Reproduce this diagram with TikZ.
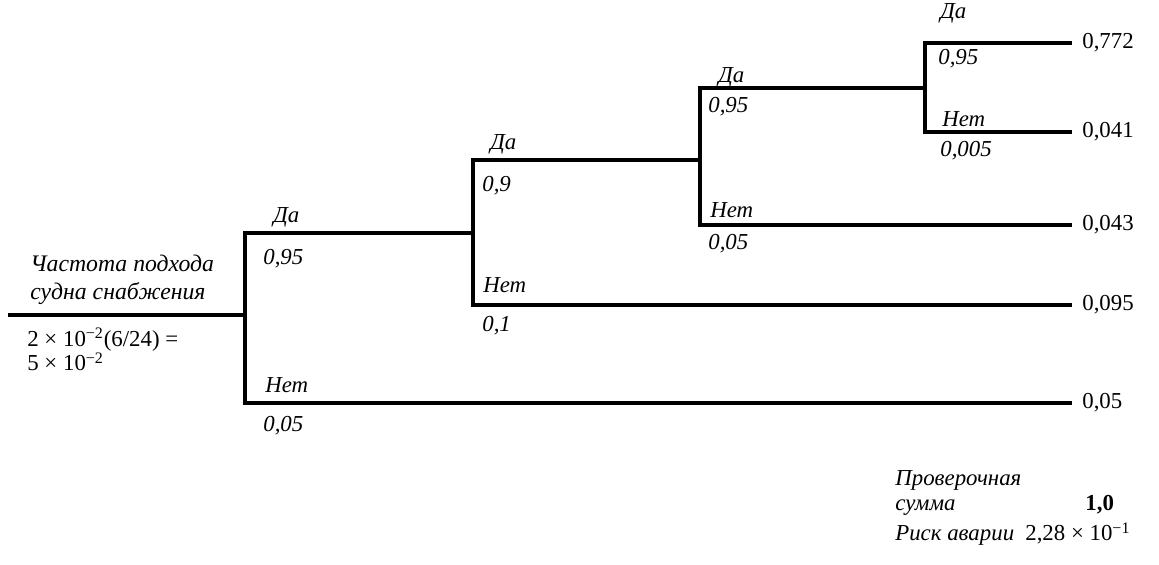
\documentclass[tikz,border=0pt]{standalone}
\usepackage{fontspec}
\setmainfont{Liberation Serif}
\usetikzlibrary{positioning}

\begin{document}
\begin{tikzpicture}[font=\fontsize{13}{15}\selectfont,
  br/.style={line width=1.9pt},
  lb/.style={anchor=base west, inner sep=0pt, font=\fontsize{13}{15}\selectfont\itshape},
  vl/.style={anchor=west, inner xsep=0.2cm, inner ysep=0pt}]
\useasboundingbox (0,0) rectangle (23.18,-11.3);
% branch points
\coordinate (r) at (0.16,-6.3);
\coordinate (j1) at (4.9,-6.3);
\coordinate (j2) at (9.46,-4.66);
\coordinate (j3) at (14.0,-3.2);
\coordinate (j4) at (18.5,-1.76);
% outcomes
\node[vl] (o1) at (21.44,-0.86) {0,772};
\node[vl] (o2) at (21.44,-2.64) {0,041};
\node[vl] (o3) at (21.44,-4.5) {0,043};
\node[vl] (o4) at (21.44,-6.1) {0,095};
\node[vl] (o5) at (21.44,-8.06) {0,05};
% tree
\draw[br] (r) -- (j1);
\draw[br] (j1) |- (j2);
\draw[br] (j1) |- (o5.west);
\draw[br] (j2) |- (j3);
\draw[br] (j2) |- (o4.west);
\draw[br] (j3) |- (j4);
\draw[br] (j3) |- (o3.west);
\draw[br] (j4) |- (o1.west);
\draw[br] (j4) |- (o2.west);
% labels
\node[lb] (y1) at (5.46,-4.46) {Да};
\node[lb] (p1) at (5.26,-5.30) {0,95};
\node[lb] (n1) at (5.30,-7.86) {Нет};
\node[lb] (q1) at (5.26,-8.64) {0,05};
\node[lb] (y2) at (9.80,-3.00) {Да};
\node[lb] (p2) at (9.64,-3.84) {0,9};
\node[lb] (n2) at (9.66,-5.86) {Нет};
\node[lb] (q2) at (9.64,-6.64) {0,1};
\node[lb] (y3) at (14.36,-1.66) {Да};
\node[lb] (p3) at (14.16,-2.26) {0,95};
\node[lb] (n3) at (14.20,-4.36) {Нет};
\node[lb] (q3) at (14.16,-5.00) {0,05};
\node[lb] (y4) at (18.80,-0.38) {Да};
\node[lb] (p4) at (18.76,-1.30) {0,95};
\node[lb] (n4) at (18.84,-2.54) {Нет};
\node[lb] (q4) at (18.80,-3.14) {0,005};
% start
\node[lb, align=left, font=\fontsize{13.5}{16.5}\selectfont\itshape] (st) at (0.6,-6.0)
  {Частота подхода\\судна снабжения};
\node[anchor=base west, inner sep=0pt, align=left, font=\fontsize{13}{11.5}\selectfont] (fr) at (0.54,-7.42)
  {2 × 10\textsuperscript{−2}(6/24) =\\5 × 10\textsuperscript{−2}};
% totals
\node[lb, align=left, font=\fontsize{13}{14.5}\selectfont\itshape] (cs) at (17.9,-10.22)
  {Проверочная\\сумма};
\node[anchor=base west, inner sep=0pt] (cv) at (21.7,-10.22) {\textbf{1,0}};
\node[lb] (rk) at (17.9,-10.82) {Риск аварии};
\node[anchor=base west, inner sep=0pt] (rv) at (20.5,-10.82) {2,28 × 10\textsuperscript{−1}};
\end{tikzpicture}
\end{document}
